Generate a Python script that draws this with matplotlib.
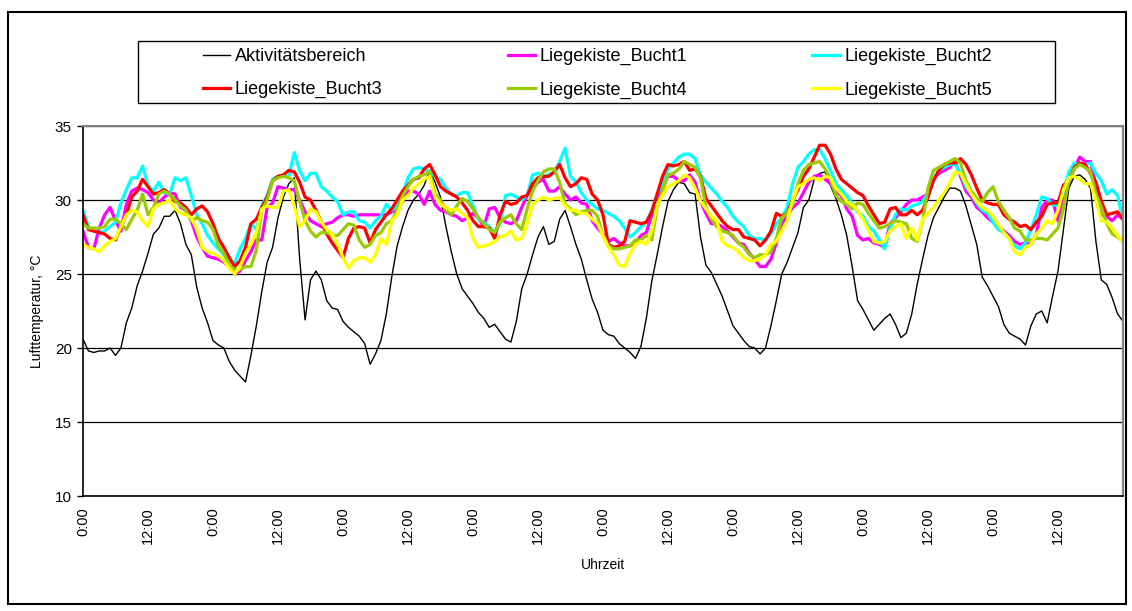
import matplotlib
matplotlib.use("Agg")
import matplotlib.pyplot as plt
from matplotlib.patches import Rectangle
import numpy as np

plt.rcParams['font.family'] = ['Liberation Sans', 'DejaVu Sans']

###############################################################
#                           data
###############################################################
# one reading per hour over 8 days (0 .. 192 h)
hours = list(range(0, 193))

aktiv = [
    20.6, 19.8, 19.7, 19.8, 19.8, 20.0, 19.5, 20.0, 21.7, 22.7, 24.2, 25.2, 26.4, 27.7, 28.1, 28.9,
    28.9, 29.3, 28.4, 27.0, 26.3, 24.1, 22.7, 21.7, 20.5, 20.2, 20.0, 19.1, 18.5, 18.1, 17.7, 19.5,
    21.5, 23.8, 25.8, 26.8, 28.8, 30.2, 31.1, 31.5, 26.0, 21.9, 24.6, 25.2, 24.6, 23.2, 22.7, 22.6,
    21.8, 21.4, 21.1, 20.8, 20.3, 18.9, 19.6, 20.5, 22.3, 24.8, 26.9, 28.2, 29.3, 30.0, 30.4, 31.0,
    32.0, 31.2, 30.2, 28.2, 26.5, 25.0, 24.0, 23.5, 23.0, 22.4, 22.0, 21.4, 21.6, 21.1, 20.6, 20.4,
    21.8, 24.0, 25.0, 26.3, 27.5, 28.2, 27.0, 27.2, 28.7, 29.3, 28.2, 27.0, 26.0, 24.6, 23.3, 22.4,
    21.2, 20.9, 20.8, 20.3, 20.0, 19.7, 19.3, 20.1, 22.0, 24.5, 26.3, 28.2, 29.9, 30.7, 31.2, 31.1,
    30.5, 30.4, 27.5, 25.6, 25.1, 24.3, 23.5, 22.5, 21.5, 21.0, 20.5, 20.1, 20.0, 19.6, 20.0, 21.5,
    23.2, 25.0, 25.8, 26.8, 27.8, 29.5, 30.0, 31.4, 31.8, 31.9, 31.0, 30.1, 29.0, 27.6, 25.5, 23.2,
    22.6, 21.9, 21.2, 21.6, 22.0, 22.3, 21.6, 20.7, 21.0, 22.3, 24.3, 26.0, 27.6, 28.8, 29.5, 30.2,
    30.8, 30.8, 30.6, 29.6, 28.3, 27.0, 24.8, 24.2, 23.5, 22.8, 21.6, 21.0, 20.8, 20.6, 20.2, 21.5,
    22.3, 22.5, 21.7, 23.5, 25.2, 28.0, 30.8, 31.6, 31.7, 31.4, 30.8, 27.2, 24.6, 24.3, 23.4, 22.3,
    21.8,
]

# Liegekisten: readings at even hours (0, 2, .., 192) and at odd hours (1, 3, .., 191)
bucht1_even = [
    27.9, 26.7, 29.0, 28.6, 29.7, 30.8, 30.5, 29.8, 30.5, 29.5, 28.6, 26.8, 26.1, 25.8, 25.0, 25.9,
    27.3, 29.5, 30.9, 30.7, 30.0, 28.6, 28.2, 28.5, 29.0, 28.9, 29.0, 29.0, 29.0, 29.3, 30.6, 30.4,
    30.6, 29.3, 29.0, 28.6, 29.1, 28.2, 29.5, 28.5, 28.6, 30.3, 31.2, 30.6, 30.9, 30.0, 29.8, 28.6,
    27.7, 27.4, 26.9, 27.1, 27.8, 30.2, 31.6, 31.3, 31.7, 29.9, 28.4, 28.2, 27.5, 27.0, 26.0, 25.5,
    27.1, 28.9, 29.8, 31.2, 31.7, 31.1, 30.3, 28.9, 27.3, 27.1, 26.8, 28.8, 29.7, 30.0, 30.4, 31.8,
    32.2, 31.6, 30.2, 29.2, 28.5, 27.9, 27.2, 27.1, 27.7, 30.0, 28.6, 31.3, 32.9, 32.6, 29.0, 28.6,
    28.7,
]
bucht1_odd = [
    26.8, 28.1, 29.5, 27.9, 30.6, 30.7, 30.0, 30.2, 30.4, 29.3, 27.5, 26.2, 26.0, 25.5, 25.2, 26.5,
    27.3, 29.8, 30.8, 30.7, 29.2, 28.4, 28.4, 28.8, 29.0, 29.0, 29.0, 29.0, 29.2, 29.9, 30.6, 29.7,
    29.7, 29.2, 28.9, 28.8, 28.8, 29.4, 28.8, 28.4, 29.5, 30.8, 31.4, 30.6, 30.4, 30.2, 29.7, 28.1,
    27.2, 27.1, 26.9, 27.6, 29.0, 30.9, 31.6, 31.3, 31.2, 29.1, 28.4, 27.9, 27.1, 26.4, 25.5, 26.0,
    28.4, 29.5, 30.5, 31.6, 31.4, 30.6, 29.4, 27.6, 27.4, 27.0, 28.4, 29.2, 30.0, 30.2, 31.4, 32.0,
    32.6, 30.6, 29.5, 28.8, 28.2, 27.6, 27.0, 27.0, 29.5, 30.0, 30.4, 32.1, 32.6, 31.0, 28.9, 29.0,
]

bucht2_even = [
    29.3, 27.9, 27.9, 28.5, 30.7, 31.5, 31.0, 31.2, 30.4, 31.3, 30.3, 28.4, 27.1, 26.3, 25.7, 27.4,
    28.0, 30.3, 31.6, 31.6, 32.0, 31.8, 30.9, 30.2, 29.0, 29.2, 28.5, 28.6, 29.7, 29.6, 31.5, 32.2,
    31.9, 31.4, 30.4, 30.5, 29.6, 28.5, 27.8, 30.3, 30.2, 30.3, 31.8, 31.7, 32.6, 31.6, 30.5, 29.7,
    29.3, 28.9, 28.1, 27.8, 28.5, 30.4, 32.1, 32.9, 33.1, 31.7, 30.8, 29.9, 28.9, 28.2, 27.4, 27.3,
    28.4, 29.5, 32.2, 33.1, 33.4, 32.0, 30.7, 29.8, 28.9, 27.9, 26.7, 29.0, 29.3, 29.7, 30.5, 32.0,
    32.4, 31.8, 30.4, 29.3, 28.5, 27.8, 26.9, 27.1, 29.0, 30.1, 29.6, 31.9, 32.4, 32.5, 31.3, 30.7,
    28.6,
]
bucht2_odd = [
    28.2, 27.8, 28.2, 29.8, 31.5, 32.3, 30.6, 30.5, 31.5, 31.5, 29.0, 27.6, 26.7, 26.0, 26.7, 28.4,
    29.6, 31.4, 31.6, 33.2, 31.3, 31.8, 30.6, 29.9, 29.2, 28.6, 28.1, 28.9, 29.3, 30.4, 32.1, 32.1,
    31.6, 30.8, 30.3, 30.5, 28.7, 28.2, 28.4, 30.4, 30.0, 31.7, 31.6, 31.9, 33.5, 31.2, 30.0, 29.4,
    29.1, 28.6, 27.5, 28.2, 29.3, 31.1, 32.5, 33.1, 32.8, 31.2, 30.4, 29.5, 28.5, 27.6, 27.4, 27.7,
    28.8, 31.1, 32.6, 33.4, 32.8, 31.1, 30.3, 29.2, 28.2, 27.3, 28.1, 29.4, 29.6, 29.9, 31.4, 32.2,
    32.4, 30.9, 29.8, 29.1, 28.0, 27.4, 26.7, 28.0, 30.2, 29.7, 30.5, 32.5, 32.4, 31.8, 30.4, 30.3,
]

bucht3_even = [
    29.0, 27.9, 27.7, 27.3, 29.0, 30.6, 30.9, 30.5, 30.4, 29.8, 29.0, 29.6, 28.4, 26.8, 25.5, 26.8,
    28.7, 30.2, 31.6, 32.0, 31.2, 30.0, 28.5, 27.1, 26.1, 28.1, 28.1, 28.0, 29.0, 30.0, 31.0, 31.5,
    32.4, 30.9, 30.4, 29.8, 28.6, 28.2, 27.4, 29.9, 29.8, 30.3, 31.5, 31.6, 32.4, 30.9, 31.5, 30.4,
    29.0, 26.8, 27.2, 28.5, 28.5, 30.4, 32.4, 32.4, 32.0, 31.6, 29.6, 28.6, 28.0, 27.5, 27.3, 27.3,
    29.1, 29.1, 30.7, 32.1, 33.7, 33.1, 31.4, 30.8, 30.3, 29.0, 28.5, 29.5, 29.0, 29.0, 30.2, 32.0,
    32.5, 32.8, 31.7, 30.0, 29.7, 29.0, 28.5, 28.3, 28.5, 29.7, 29.8, 31.3, 32.5, 31.8, 29.9, 29.1,
    28.7,
]
bucht3_odd = [
    28.0, 27.8, 27.4, 28.2, 30.2, 31.4, 30.4, 30.7, 29.9, 29.5, 29.4, 29.2, 27.4, 26.1, 25.9, 28.4,
    29.5, 31.3, 31.7, 31.9, 30.2, 29.3, 27.7, 26.6, 27.4, 28.2, 27.1, 28.5, 29.4, 30.6, 31.4, 32.1,
    31.7, 30.6, 30.2, 29.3, 28.2, 28.1, 29.0, 29.7, 30.2, 31.1, 31.6, 31.9, 31.5, 31.1, 31.4, 30.0,
    27.0, 26.9, 28.6, 28.4, 29.2, 31.6, 32.3, 32.6, 32.1, 30.1, 29.1, 28.2, 28.0, 27.4, 26.9, 27.9,
    28.9, 30.0, 31.6, 32.9, 33.7, 32.1, 31.1, 30.5, 29.6, 28.4, 29.4, 29.0, 29.3, 29.3, 31.3, 32.4,
    32.5, 32.4, 30.8, 29.8, 29.7, 28.7, 28.2, 28.0, 28.9, 29.8, 31.0, 32.2, 32.4, 31.2, 29.0, 29.2,
]

bucht4_even = [
    28.4, 28.1, 28.2, 28.7, 28.0, 29.3, 29.0, 30.4, 30.4, 29.6, 28.6, 28.6, 28.0, 26.4, 25.3, 25.5,
    26.6, 30.0, 31.5, 31.5, 29.9, 27.9, 27.8, 27.6, 28.0, 28.3, 26.8, 27.6, 28.4, 29.3, 30.9, 31.6,
    31.9, 30.0, 29.0, 30.1, 29.4, 28.4, 27.8, 28.8, 28.4, 29.4, 31.3, 32.1, 31.2, 29.4, 29.2, 29.3,
    27.6, 26.7, 26.8, 27.3, 27.6, 29.5, 31.7, 32.1, 32.4, 31.5, 28.7, 27.9, 27.6, 26.8, 26.1, 26.3,
    27.4, 29.1, 31.1, 32.4, 32.6, 31.4, 29.9, 29.4, 29.7, 28.6, 28.2, 28.6, 28.4, 27.2, 30.8, 32.2,
    32.6, 32.5, 30.6, 29.9, 30.9, 29.3, 28.1, 27.3, 27.4, 27.3, 28.1, 31.3, 32.4, 31.9, 29.5, 27.7,
    27.2,
]
bucht4_odd = [
    28.1, 28.1, 28.7, 28.4, 28.7, 30.4, 29.5, 30.6, 30.0, 29.3, 28.8, 28.5, 26.9, 25.6, 25.3, 25.5,
    29.3, 31.3, 31.6, 31.3, 28.6, 27.5, 27.8, 27.6, 28.4, 27.3, 27.0, 27.8, 28.6, 30.3, 31.4, 31.7,
    30.4, 29.3, 29.6, 29.9, 28.8, 28.0, 28.5, 29.0, 28.0, 30.6, 31.9, 32.1, 29.7, 29.0, 29.3, 28.9,
    26.9, 26.7, 26.9, 27.3, 27.3, 30.6, 31.8, 32.6, 32.2, 29.5, 28.2, 27.8, 27.1, 26.3, 26.3, 26.5,
    28.8, 29.7, 32.0, 32.5, 32.1, 30.3, 29.7, 29.8, 29.1, 28.1, 28.4, 28.5, 27.4, 28.6, 32.0, 32.4,
    32.8, 31.3, 30.1, 30.5, 29.9, 28.8, 27.9, 27.3, 27.4, 27.7, 29.4, 32.1, 32.2, 30.4, 28.4, 27.5,
]

bucht5_even = [
    27.0, 26.7, 26.9, 27.4, 29.0, 29.2, 28.2, 29.7, 30.0, 29.1, 28.8, 26.8, 26.4, 25.9, 25.0, 26.4,
    27.8, 29.6, 29.5, 30.7, 28.2, 29.4, 28.5, 27.7, 26.1, 25.9, 26.1, 26.3, 27.0, 29.0, 30.3, 31.1,
    31.6, 29.7, 29.3, 29.1, 27.4, 26.9, 27.2, 27.6, 27.3, 28.4, 30.0, 30.0, 30.2, 29.3, 29.1, 28.7,
    27.6, 26.3, 25.5, 27.0, 27.0, 29.7, 30.9, 31.3, 31.5, 29.9, 28.9, 27.2, 26.8, 26.1, 25.9, 26.3,
    27.2, 28.6, 30.9, 31.4, 31.3, 31.5, 30.4, 29.7, 28.7, 27.2, 27.2, 28.2, 27.4, 27.3, 29.1, 30.0,
    31.1, 31.8, 30.4, 29.5, 28.9, 27.8, 26.5, 26.8, 27.7, 28.6, 29.3, 31.5, 31.4, 31.1, 28.6, 28.1,
    27.1,
]
bucht5_odd = [
    26.8, 26.5, 27.2, 28.2, 29.3, 28.6, 29.4, 29.8, 29.4, 29.0, 28.0, 26.5, 26.2, 25.4, 25.5, 27.0,
    29.4, 29.5, 30.6, 29.6, 28.6, 29.2, 28.0, 27.0, 25.4, 26.1, 25.8, 27.4, 28.6, 30.0, 30.8, 31.4,
    30.2, 29.5, 29.4, 28.8, 26.8, 27.0, 27.5, 27.9, 27.4, 29.7, 30.2, 30.1, 29.6, 29.3, 29.1, 28.4,
    26.8, 25.6, 26.4, 27.2, 27.9, 30.3, 31.1, 31.7, 30.8, 29.4, 28.6, 26.9, 26.5, 25.9, 26.0, 27.0,
    27.9, 30.0, 31.1, 31.5, 31.6, 30.8, 29.9, 29.3, 28.0, 27.1, 27.9, 28.4, 28.1, 28.7, 29.5, 30.5,
    31.9, 31.1, 29.9, 29.3, 28.3, 27.4, 26.3, 27.0, 28.1, 28.4, 30.7, 31.6, 31.1, 30.0, 28.5, 27.6,
]

labels = ["Aktivitätsbereich", "Liegekiste_Bucht1", "Liegekiste_Bucht2",
          "Liegekiste_Bucht3", "Liegekiste_Bucht4", "Liegekiste_Bucht5"]
colors = ["black", "#ff00ff", "#00ffff", "#ff0000", "#99cc00", "#ffff00"]
tick_hours = list(range(0, 192, 12))
tick_labels = ["0:00" if h % 24 == 0 else "12:00" for h in tick_hours]


def merge(even, odd):
    out = np.empty(len(even) + len(odd))
    out[0::2] = even
    out[1::2] = odd
    return out


buchten = [merge(bucht1_even, bucht1_odd), merge(bucht2_even, bucht2_odd),
           merge(bucht3_even, bucht3_odd), merge(bucht4_even, bucht4_odd),
           merge(bucht5_even, bucht5_odd)]

###############################################################
#                           plot
###############################################################
W, H = 1132, 611
fig = plt.figure(figsize=(W / 100, H / 100), dpi=100)
ax = fig.add_axes([83 / W, 1 - 496 / H, 1040 / W, 370 / H])

lines = []
lines += ax.plot(hours, aktiv, color=colors[0], lw=1.0, label=labels[0])
for vals, col, lab in zip(buchten, colors[1:], labels[1:]):
    lines += ax.plot(hours, vals, color=col, lw=2.3, label=lab, solid_joinstyle="round")

ax.set_xlim(0, 192)
ax.set_ylim(10, 35)
ax.set_yticks(range(10, 36, 5))
ax.yaxis.grid(True, color="black", lw=0.9)
ax.set_axisbelow(True)
ax.set_xticks(tick_hours)
ax.set_xticklabels(tick_labels, rotation=90, fontsize=10.5)
ax.tick_params(axis="x", length=0, pad=8)
ax.tick_params(axis="y", length=4, width=1, direction="out", labelsize=11, pad=4)
for s in ["top", "right"]:
    ax.spines[s].set_color("#808080")
    ax.spines[s].set_linewidth(1.5)
for s in ["left", "bottom"]:
    ax.spines[s].set_color("black")
    ax.spines[s].set_linewidth(1.2)

ax.set_xlabel("Uhrzeit", fontsize=10, labelpad=10)
ax.set_ylabel("Lufttemperatur, °C", fontsize=10, labelpad=8)

# legend: 2 rows x 3 columns (filled column-wise), box drawn separately
order = [0, 3, 1, 4, 2, 5]
leg = fig.legend([lines[i] for i in order], [labels[i] for i in order], ncol=3,
                 loc="upper left", bbox_to_anchor=(203 / W, 1 - 48 / H),
                 fontsize=13, frameon=False, handlelength=1.5, handletextpad=0.25,
                 columnspacing=6.95, labelspacing=0.9, borderpad=0, borderaxespad=0)
fig.patches.append(Rectangle((138 / W, 1 - 103 / H), 917 / W, 62 / H,
                             transform=fig.transFigure, fill=False, edgecolor="black", lw=1.0))

fig.patches.append(Rectangle((8 / W, 1 - 604 / H), 1118 / W, 592 / H,
                             transform=fig.transFigure, fill=False, edgecolor="black", lw=1.5))

fig.savefig("out.png", dpi=100)
